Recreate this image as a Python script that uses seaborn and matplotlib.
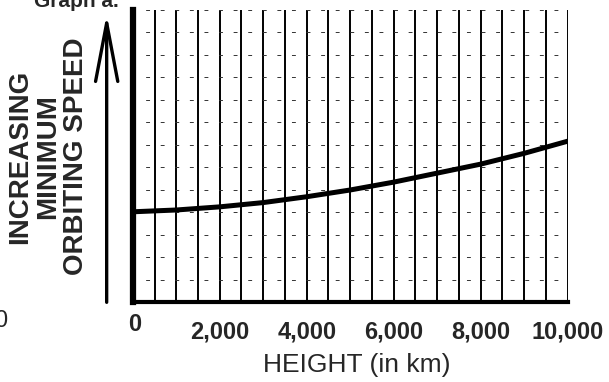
import numpy as np
import pandas as pd
import matplotlib
matplotlib.use("Agg")
import matplotlib.pyplot as plt
import matplotlib.transforms as mtransforms
import seaborn as sns

# values (y in grid units, no scale given)
height_km = [0, 1000, 2000, 3000, 4000, 5000, 6000, 7000, 8000, 9000, 10000]
speed = [4.02, 4.1, 4.24, 4.43, 4.69, 4.99, 5.34, 5.74, 6.14, 6.62, 7.16]
tick_vals = [0, 2000, 4000, 6000, 8000, 10000]
tick_labels = ["0", "2,000", "4,000", "6,000", "8,000", "10,000"]

df = pd.DataFrame({"height": height_km, "speed": speed})

sns.set_style("white")
plt.rcParams["font.family"] = ["Liberation Sans", "DejaVu Sans"]

fig = plt.figure(figsize=(6.09, 3.82), dpi=100)
ax = fig.add_axes([0.218, 0.209, 0.714, 0.765])

sns.lineplot(data=df, x="height", y="speed", ax=ax, color="black", lw=3.6)

ax.set_xlim(0, 10000)
ax.set_ylim(0, 13)

# grid: solid verticals every 500 km, loose dashed horizontals
for xv in np.arange(500, 10001, 500):
    ax.axvline(xv, color="black", lw=1.4, zorder=1)
for yv in np.arange(1, 14, 1):
    ax.axhline(yv, color="#333333", lw=0.7, ls=(2, (4, 11)), zorder=1)

for s in ["top", "right"]:
    ax.spines[s].set_visible(False)
ax.spines["left"].set_linewidth(4.5)
ax.spines["bottom"].set_linewidth(3.0)
ax.spines["left"].set_color("black")
ax.spines["bottom"].set_color("black")

ax.set_yticks([])
ax.set_xticks(tick_vals)
ax.set_xticklabels(tick_labels, fontsize=17, fontweight="bold")
ax.tick_params(axis="x", direction="out", length=9, width=1.8, pad=4, color="black")
# the "0" sits right under the corner, no tick mark
first = ax.xaxis.get_major_ticks()[0]
first.tick1line.set_visible(False)
lbl0 = ax.get_xticklabels()[0]
lbl0.set_transform(lbl0.get_transform() + mtransforms.ScaledTranslation(0.02, 0.07, fig.dpi_scale_trans))

ax.set_xlabel("HEIGHT (in km)", fontsize=19)
ax.xaxis.set_label_coords(0.515, -0.175)
ax.set_ylabel("")

# y label and arrow outside the axes
fig.text(0.079, 0.59, "INCREASING\nMINIMUM\nORBITING SPEED", rotation=90,
         ha="center", va="center", multialignment="center",
         fontsize=20, fontweight="bold", linespacing=1.08)
ax.annotate("", xy=(-0.06, 0.995), xytext=(-0.06, -0.01), xycoords="axes fraction",
            annotation_clip=False,
            arrowprops=dict(arrowstyle="->,head_length=4.2,head_width=0.8",
                            lw=2.4, color="black", mutation_scale=10))

# scan leftovers: caption cut at top, neighbour graph's "0"
fig.text(0.125, 0.995, "Graph a.", ha="center", va="center", fontsize=15, fontweight="bold")
fig.text(0.012, 0.16, "0", ha="right", va="center", fontsize=17)

fig.savefig("out.png", dpi=100)
